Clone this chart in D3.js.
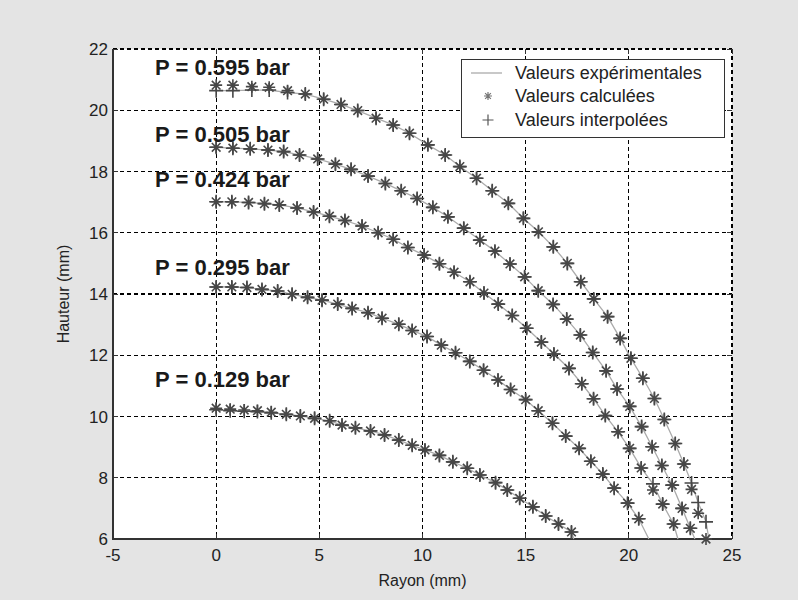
<!DOCTYPE html>
<html>
<head>
  <meta charset="utf-8">
  <script src="https://d3js.org/d3.v7.min.js"></script>
  <style type="text/css">
    body { margin: 0; background: #e4e4e4; }
    text { font-family: "Liberation Sans", Arial, sans-serif; fill: #222; }
    .tick-label { font-size: 17px; }
    .axis-title { font-size: 16px; }
    .pression { font-size: 22px; font-weight: bold; fill: #1a1a1a; }
    .legend-text { font-size: 18px; }
  </style>
</head>
<body>
<script type="text/javascript">
  // Rayon (mm) and hauteur (mm) for each pressure
  var pressions = ["P = 0.595 bar", "P = 0.505 bar", "P = 0.424 bar", "P = 0.295 bar", "P = 0.129 bar"];

  var rayon1 = [0, 0.81, 1.73, 2.57, 3.46, 4.32, 5.21, 6.05, 6.86, 7.75, 8.58, 9.37, 10.26, 11.10, 11.81, 12.62, 13.38, 14.16, 14.89, 15.62, 16.34, 17.02, 17.67, 18.30, 18.97, 19.58, 20.10, 20.68, 21.24, 21.72, 22.25, 22.67, 23.04, 23.36, 23.74];
  var calc1 = [20.82, 20.82, 20.77, 20.75, 20.64, 20.53, 20.36, 20.19, 19.99, 19.74, 19.52, 19.25, 18.87, 18.54, 18.16, 17.78, 17.37, 16.96, 16.47, 16.03, 15.54, 15.00, 14.40, 13.84, 13.26, 12.55, 11.90, 11.25, 10.59, 9.90, 9.12, 8.45, 7.62, 6.84, 6.00];
  var interp1 = [20.64, 20.64, 20.66, 20.66, 20.58, 20.53, 20.36, 20.19, 19.99, 19.74, 19.52, 19.25, 18.87, 18.54, 18.16, 17.78, 17.37, 16.96, 16.47, 16.03, 15.54, 15.00, 14.40, 13.84, 13.26, 12.55, 11.90, 11.25, 10.59, 9.90, 9.12, 8.45, 7.83, 7.19, 6.56];

  var rayon2 = [0, 0.81, 1.65, 2.51, 3.27, 4.04, 4.92, 5.78, 6.54, 7.36, 8.20, 8.97, 9.74, 10.50, 11.23, 12.00, 12.78, 13.51, 14.24, 14.95, 15.61, 16.33, 16.99, 17.65, 18.25, 18.90, 19.43, 20.04, 20.62, 21.13, 21.60, 22.10, 22.58, 22.98];
  var calc2 = [18.79, 18.76, 18.74, 18.70, 18.65, 18.54, 18.41, 18.24, 18.07, 17.85, 17.61, 17.37, 17.12, 16.83, 16.52, 16.15, 15.76, 15.40, 14.98, 14.56, 14.11, 13.66, 13.18, 12.66, 12.09, 11.49, 10.90, 10.33, 9.67, 9.01, 8.40, 7.76, 7.00, 6.35];
  var interp2 = calc2;

  var rayon3 = [0, 0.76, 1.57, 2.34, 3.06, 3.92, 4.72, 5.49, 6.24, 7.07, 7.85, 8.58, 9.29, 10.08, 10.82, 11.53, 12.30, 12.98, 13.67, 14.35, 15.05, 15.76, 16.37, 17.10, 17.72, 18.29, 18.86, 19.48, 20.04, 20.60, 21.17, 21.64, 22.17];
  var calc3 = [17.01, 17.01, 16.99, 16.95, 16.91, 16.81, 16.68, 16.54, 16.40, 16.22, 16.00, 15.79, 15.52, 15.27, 14.99, 14.71, 14.40, 14.03, 13.67, 13.30, 12.88, 12.43, 12.04, 11.57, 11.07, 10.58, 10.03, 9.50, 8.96, 8.32, 7.60, 7.14, 6.49];
  var interp3 = [17.01, 17.01, 16.99, 16.95, 16.91, 16.81, 16.68, 16.54, 16.40, 16.22, 16.00, 15.79, 15.52, 15.27, 14.99, 14.71, 14.40, 14.03, 13.67, 13.30, 12.88, 12.43, 12.04, 11.57, 11.07, 10.58, 10.03, 9.50, 8.96, 8.32, 7.80, 7.14, 6.49];

  var rayon4 = [0, 0.76, 1.49, 2.22, 2.98, 3.68, 4.43, 5.13, 5.89, 6.59, 7.36, 8.04, 8.85, 9.50, 10.22, 10.91, 11.60, 12.29, 12.96, 13.66, 14.27, 15.00, 15.61, 16.30, 16.94, 17.59, 18.16, 18.74, 19.29, 19.94, 20.48];
  var calc4 = [14.23, 14.23, 14.21, 14.15, 14.10, 13.99, 13.89, 13.80, 13.67, 13.53, 13.39, 13.21, 13.01, 12.81, 12.61, 12.33, 12.08, 11.80, 11.51, 11.19, 10.88, 10.55, 10.19, 9.78, 9.36, 8.96, 8.54, 8.12, 7.66, 7.17, 6.66];
  var interp4 = calc4;

  var rayon5 = [0, 0.68, 1.36, 2.00, 2.67, 3.40, 4.08, 4.77, 5.50, 6.10, 6.75, 7.48, 8.16, 8.85, 9.50, 10.12, 10.82, 11.47, 12.17, 12.78, 13.54, 14.11, 14.71, 15.35, 15.97, 16.59, 17.22];
  var calc5 = [10.27, 10.24, 10.21, 10.19, 10.14, 10.07, 10.02, 9.94, 9.86, 9.72, 9.63, 9.53, 9.40, 9.23, 9.06, 8.91, 8.73, 8.52, 8.31, 8.09, 7.84, 7.60, 7.33, 7.05, 6.75, 6.49, 6.23];
  var interp5 = [10.22, 10.19, 10.17, 10.16, 10.12, 10.07, 10.02, 9.94, 9.86, 9.72, 9.63, 9.53, 9.40, 9.23, 9.06, 8.91, 8.73, 8.52, 8.31, 8.09, 7.84, 7.60, 7.33, 7.05, 6.75, 6.49, 6.23];

  // where each experimental profile meets the bottom of the axes
  var rayonFin = [23.88, 23.20, 22.38, 20.97, 17.33];
  var hauteurFin = [6, 6, 6, 6, 6];

  // pressure labels, anchored in data units
  var labelRayon = [-2.96, -2.96, -2.96, -2.96, -2.96];
  var labelHauteur = [21.15, 18.96, 17.49, 14.62, 10.96];

  var xTicks = [-5, 0, 5, 10, 15, 20, 25];
  var yTicks = [6, 8, 10, 12, 14, 16, 18, 20, 22];
  var legendLabels = ["Valeurs expérimentales", "Valeurs calculées", "Valeurs interpolées"];

  var rayons = [rayon1, rayon2, rayon3, rayon4, rayon5];
  var calcs = [calc1, calc2, calc3, calc4, calc5];
  var interps = [interp1, interp2, interp3, interp4, interp5];

  function draw() {
    var W = 798, H = 600,
      left = 113, right = 732, top = 49, bottom = 539,
      markColor = "#474747",
      lineColor = "#ababab";

    var svg = d3.select("body").append("svg")
      .attr("width", W).attr("height", H);

    svg.append("rect").attr("width", W).attr("height", H).attr("fill", "#e4e4e4");
    svg.append("rect")
      .attr("x", left).attr("y", top)
      .attr("width", right - left).attr("height", bottom - top)
      .attr("fill", "#fff");

    var x = d3.scaleLinear().domain([-5, 25]).range([left, right]);
    var y = d3.scaleLinear().domain([6, 22]).range([bottom, top]);

    //Grid
    var grid = svg.append("g").attr("stroke", "#000").attr("stroke-width", 1.1)
      .attr("stroke-dasharray", "4,3").attr("shape-rendering", "crispEdges");
    grid.selectAll(".gx").data(xTicks.slice(1)).enter().append("line")
      .attr("x1", d => x(d)).attr("x2", d => x(d))
      .attr("y1", top).attr("y2", bottom);
    grid.selectAll(".gy").data(yTicks.slice(1)).enter().append("line")
      .attr("x1", left).attr("x2", right)
      .attr("y1", d => y(d)).attr("y2", d => y(d));

    //Ticks, inward on every side
    var ticks = svg.append("g").attr("stroke", "#333").attr("shape-rendering", "crispEdges");
    xTicks.forEach(function(t) {
      ticks.append("line").attr("x1", x(t)).attr("x2", x(t)).attr("y1", bottom).attr("y2", bottom - 5);
      ticks.append("line").attr("x1", x(t)).attr("x2", x(t)).attr("y1", top).attr("y2", top + 5);
    });
    yTicks.forEach(function(t) {
      ticks.append("line").attr("x1", left).attr("x2", left + 5).attr("y1", y(t)).attr("y2", y(t));
      ticks.append("line").attr("x1", right).attr("x2", right - 5).attr("y1", y(t)).attr("y2", y(t));
    });

    //Axis lines (left and bottom only)
    svg.append("path")
      .attr("d", "M" + left + "," + top + "V" + bottom + "H" + right)
      .attr("fill", "none").attr("stroke", "#333").attr("stroke-width", 1.2)
      .attr("shape-rendering", "crispEdges");

    svg.selectAll(".xl").data(xTicks).enter().append("text")
      .attr("class", "tick-label")
      .attr("x", d => x(d)).attr("y", bottom + 22)
      .attr("text-anchor", "middle").text(d => d);
    svg.selectAll(".yl").data(yTicks).enter().append("text")
      .attr("class", "tick-label")
      .attr("x", left - 5).attr("y", d => y(d) + 6)
      .attr("text-anchor", "end").text(d => d);

    svg.append("text").attr("class", "axis-title")
      .attr("x", (left + right) / 2).attr("y", bottom + 47)
      .attr("text-anchor", "middle").text("Rayon (mm)");
    svg.append("text").attr("class", "axis-title")
      .attr("transform", "translate(" + 69 + "," + ((top + bottom) / 2) + ") rotate(-90)")
      .attr("text-anchor", "middle").text("Hauteur (mm)");

    var line = d3.line().x(d => x(d[0])).y(d => y(d[1]));

    function starPath(s) {
      var d = s * 0.72;
      return "M" + (-s) + ",0H" + s + "M0," + (-s) + "V" + s +
        "M" + (-d) + "," + (-d) + "L" + d + "," + d +
        "M" + (-d) + "," + d + "L" + d + "," + (-d);
    }
    function plusPath(s) {
      return "M" + (-s) + ",0H" + s + "M0," + (-s) + "V" + s;
    }

    var plot = svg.append("g");

    rayons.forEach(function(r, i) {
      var calc = calcs[i], interp = interps[i];
      var ptsCalc = r.map((v, k) => [v, calc[k]]);
      var ptsInterp = r.map((v, k) => [v, interp[k]]);
      var ptsExp = ptsInterp.concat([[rayonFin[i], hauteurFin[i]]]);

      plot.append("path").datum(ptsExp)
        .attr("d", line).attr("fill", "none")
        .attr("stroke", lineColor).attr("stroke-width", 1.3);

      plot.selectAll(".c" + i).data(ptsCalc).enter().append("path")
        .attr("transform", d => "translate(" + x(d[0]) + "," + y(d[1]) + ")")
        .attr("d", starPath(6)).attr("fill", "none")
        .attr("stroke", markColor).attr("stroke-width", 1.6);

      plot.selectAll(".p" + i).data(ptsInterp).enter().append("path")
        .attr("transform", d => "translate(" + x(d[0]) + "," + y(d[1]) + ")")
        .attr("d", plusPath(7)).attr("fill", "none")
        .attr("stroke", markColor).attr("stroke-width", 1.6);

      svg.append("text").attr("class", "pression")
        .attr("x", x(labelRayon[i])).attr("y", y(labelHauteur[i]))
        .text(pressions[i]);
    });

    //Legend
    var lg = svg.append("g").attr("transform", "translate(461,59)");
    lg.append("rect").attr("width", 263).attr("height", 78)
      .attr("fill", "#fff").attr("stroke", "#333").attr("stroke-width", 1)
      .attr("shape-rendering", "crispEdges");
    var rows = [14, 37, 61];
    lg.append("line").attr("x1", 10).attr("x2", 41).attr("y1", rows[0]).attr("y2", rows[0])
      .attr("stroke", lineColor).attr("stroke-width", 1.3);
    lg.append("path").attr("transform", "translate(27," + rows[1] + ")")
      .attr("d", starPath(4)).attr("fill", "none").attr("stroke", "#777").attr("stroke-width", 1.2);
    lg.append("path").attr("transform", "translate(27," + rows[2] + ")")
      .attr("d", plusPath(5.5)).attr("fill", "none").attr("stroke", "#555").attr("stroke-width", 1.2);
    lg.selectAll(".lt").data(legendLabels).enter().append("text")
      .attr("class", "legend-text")
      .attr("x", 54).attr("y", (d, k) => rows[k] + 6)
      .text(d => d);
  }

  draw();
</script>
</body>
</html>
